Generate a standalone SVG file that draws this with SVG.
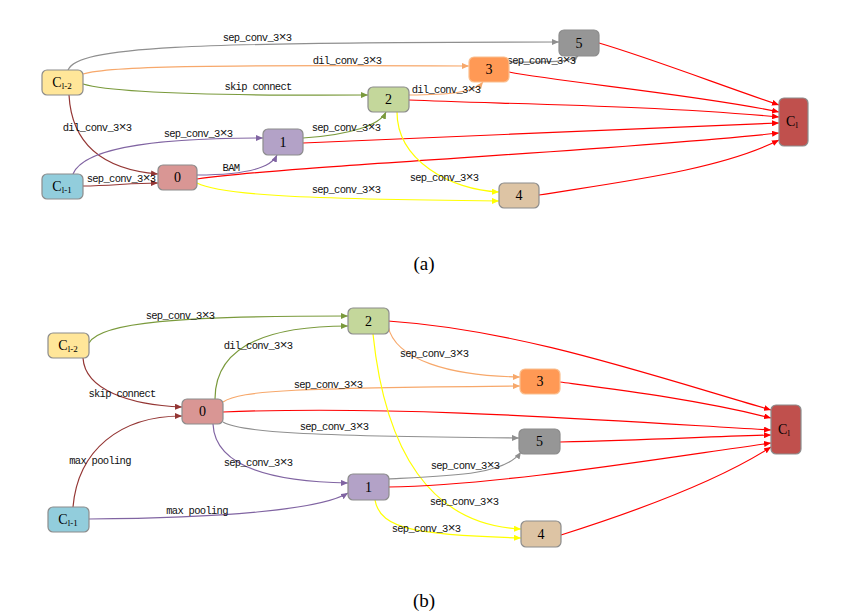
<svg xmlns="http://www.w3.org/2000/svg" width="845" height="616" viewBox="0 0 845 616">
<defs>
<style>
.nd{stroke:#8c8c8c;stroke-width:1.2}
.nt{font-family:"Liberation Serif","Times New Roman",serif;font-size:14px;text-anchor:middle;fill:#000}
.lb{font-family:"Liberation Mono","Courier New",monospace;font-size:10.5px;letter-spacing:-0.7px;text-anchor:middle;fill:#111}
.x{font-size:13px}
.cap{font-family:"Liberation Serif","Times New Roman",serif;font-size:19px;text-anchor:middle;fill:#000}
.e{fill:none;stroke-width:1.2}
.gy{stroke:#8f8f8f}
.or{stroke:#F7A86B}
.ol{stroke:#7A9A3C}
.dr{stroke:#943634}
.pu{stroke:#8064A2}
.rd{stroke:#FF0000;stroke-width:1.2}
.ye{stroke:#FFFF00}
</style>
<marker id="mgy" markerUnits="userSpaceOnUse" markerWidth="7" markerHeight="6" refX="7" refY="3" orient="auto"><path d="M0,0 L7,3 L0,6 z" fill="#8f8f8f"/></marker>
<marker id="mor" markerUnits="userSpaceOnUse" markerWidth="7" markerHeight="6" refX="7" refY="3" orient="auto"><path d="M0,0 L7,3 L0,6 z" fill="#F7A86B"/></marker>
<marker id="mol" markerUnits="userSpaceOnUse" markerWidth="7" markerHeight="6" refX="7" refY="3" orient="auto"><path d="M0,0 L7,3 L0,6 z" fill="#7A9A3C"/></marker>
<marker id="mdr" markerUnits="userSpaceOnUse" markerWidth="7" markerHeight="6" refX="7" refY="3" orient="auto"><path d="M0,0 L7,3 L0,6 z" fill="#943634"/></marker>
<marker id="mpu" markerUnits="userSpaceOnUse" markerWidth="7" markerHeight="6" refX="7" refY="3" orient="auto"><path d="M0,0 L7,3 L0,6 z" fill="#8064A2"/></marker>
<marker id="mrd" markerUnits="userSpaceOnUse" markerWidth="7" markerHeight="6" refX="7" refY="3" orient="auto"><path d="M0,0 L7,3 L0,6 z" fill="#FF0000"/></marker>
<marker id="mye" markerUnits="userSpaceOnUse" markerWidth="7" markerHeight="6" refX="7" refY="3" orient="auto"><path d="M0,0 L7,3 L0,6 z" fill="#FFFF00"/></marker>
</defs>
<rect width="845" height="616" fill="#fff"/>

<!-- Panel (a) -->
<g id="a-connectors">
<path class="e gy" marker-end="url(#mgy)" d="M68,70 C78,47 180,42 559,42"/>
<path class="e or" marker-end="url(#mor)" d="M83,74 C110,66 200,65 469,66"/>
<path class="e ol" marker-end="url(#mol)" d="M83,84 C110,92 200,96 368,95"/>
<path class="e dr" marker-end="url(#mdr)" d="M69,95 C72,150 110,170 158,174"/>
<path class="e pu" marker-end="url(#mpu)" d="M73,174 C85,145 170,138 263,138"/>
<path class="e dr" marker-end="url(#mdr)" d="M83,186 C110,186 130,183 158,183"/>
<path class="e pu" marker-end="url(#mpu)" d="M197,175 C240,175 270,170 277,155"/>
<path class="e rd" marker-end="url(#mrd)" d="M197,179 C300,165 600,152 779,133"/>
<path class="e ye" marker-end="url(#mye)" d="M197,183 C220,195 300,199 499,201"/>
<path class="e ol" marker-end="url(#mol)" d="M303,138 C350,135 380,125 386,112"/>
<path class="e rd" marker-end="url(#mrd)" d="M303,143 C450,137 650,128 779,123"/>
<path class="e or" marker-end="url(#mor)" d="M409,95 C450,95 475,92 483,82"/>
<path class="e rd" marker-end="url(#mrd)" d="M409,100 C500,104 650,105 779,117"/>
<path class="e ye" marker-end="url(#mye)" d="M397,112 C397,160 450,190 499,192"/>
<path class="e gy" marker-end="url(#mgy)" d="M509,62 C540,62 570,63 578,56"/>
<path class="e rd" marker-end="url(#mrd)" d="M509,72 C560,82 700,95 779,112"/>
<path class="e rd" marker-end="url(#mrd)" d="M599,43 C650,58 720,85 779,105"/>
<path class="e rd" marker-end="url(#mrd)" d="M539,195 C620,182 720,170 779,140"/>
</g>
<g id="a-labels">
<text class="lb" x="257" y="41">sep_conv_3<tspan class="x">×</tspan>3</text>
<text class="lb" x="347" y="64">dil_conv_3<tspan class="x">×</tspan>3</text>
<text class="lb" x="258" y="90">skip connect</text>
<text class="lb" x="97" y="131">dil_conv_3<tspan class="x">×</tspan>3</text>
<text class="lb" x="198" y="137">sep_conv_3<tspan class="x">×</tspan>3</text>
<text class="lb" x="121" y="182">sep_conv_3<tspan class="x">×</tspan>3</text>
<text class="lb" x="231" y="171">BAM</text>
<text class="lb" x="346" y="193">sep_conv_3<tspan class="x">×</tspan>3</text>
<text class="lb" x="346" y="131">sep_conv_3<tspan class="x">×</tspan>3</text>
<text class="lb" x="446" y="93">dil_conv_3<tspan class="x">×</tspan>3</text>
<text class="lb" x="444" y="181">sep_conv_3<tspan class="x">×</tspan>3</text>
<text class="lb" x="541" y="64">sep_conv_3<tspan class="x">×</tspan>3</text>
</g>
<g id="a-cl2"><rect class="nd" x="42" y="70" width="41" height="25" rx="5" fill="#FFE699"/><text class="nt" x="62" y="87">C<tspan font-size="9" dy="2">l-2</tspan></text></g>
<g id="a-cl1"><rect class="nd" x="42" y="174" width="41" height="25" rx="5" fill="#92CDDC"/><text class="nt" x="62" y="191">C<tspan font-size="9" dy="2">l-1</tspan></text></g>
<g id="a-n0"><rect class="nd" x="158" y="165" width="39" height="25" rx="5" fill="#D99694"/><text class="nt" x="177.5" y="182">0</text></g>
<g id="a-n1"><rect class="nd" x="263" y="129" width="40" height="26" rx="5" fill="#B3A2C7"/><text class="nt" x="283" y="147">1</text></g>
<g id="a-n2"><rect class="nd" x="368" y="87" width="41" height="25" rx="5" fill="#C4D79B"/><text class="nt" x="388.5" y="104">2</text></g>
<g id="a-n3"><rect x="469" y="57" width="40" height="25" rx="5" fill="#FF9955" stroke="#FAC090" stroke-width="1.2"/><text class="nt" x="489" y="74">3</text></g>
<g id="a-n4"><rect class="nd" x="499" y="183" width="40" height="25" rx="5" fill="#DDC4A4" stroke="#cfcfcf"/><text class="nt" x="519" y="200">4</text></g>
<g id="a-n5"><rect class="nd" x="559" y="30" width="40" height="26" rx="5" fill="#969696"/><text class="nt" x="579" y="48">5</text></g>
<g id="a-cl"><rect class="nd" x="779" y="98" width="29" height="48" rx="5" fill="#C0504D"/><text class="nt" x="792" y="126">C<tspan font-size="9" dy="2">l</tspan></text></g>
<text class="cap" x="424" y="270">(a)</text>

<!-- Panel (b) -->
<g id="b-connectors">
<path class="e ol" marker-end="url(#mol)" d="M89,343 C100,322 180,316 348,316"/>
<path class="e ol" marker-end="url(#mol)" d="M215,399 C215,350 260,326 348,326"/>
<path class="e dr" marker-end="url(#mdr)" d="M83,358 C85,390 130,405 182,407"/>
<path class="e dr" marker-end="url(#mdr)" d="M73,507 C78,450 120,416 182,416"/>
<path class="e pu" marker-end="url(#mpu)" d="M89,519 C220,518 320,510 348,493"/>
<path class="e pu" marker-end="url(#mpu)" d="M213,424 C215,470 280,482 348,483"/>
<path class="e or" marker-end="url(#mor)" d="M223,402 C240,390 300,388 520,386"/>
<path class="e rd" marker-end="url(#mrd)" d="M223,412 C400,405 600,420 771,430"/>
<path class="e gy" marker-end="url(#mgy)" d="M223,422 C240,432 300,436 519,438"/>
<path class="e or" marker-end="url(#mor)" d="M388,326 C395,360 450,376 520,377"/>
<path class="e ye" marker-end="url(#mye)" d="M373,334 C385,450 430,525 521,529"/>
<path class="e rd" marker-end="url(#mrd)" d="M388,321 C520,330 650,375 771,410"/>
<path class="e gy" marker-end="url(#mgy)" d="M388,479 C450,476 505,475 521,452"/>
<path class="e rd" marker-end="url(#mrd)" d="M388,487 C500,485 650,460 771,443"/>
<path class="e ye" marker-end="url(#mye)" d="M375,500 C380,530 420,535 521,538"/>
<path class="e rd" marker-end="url(#mrd)" d="M560,382 C620,390 700,400 771,418"/>
<path class="e rd" marker-end="url(#mrd)" d="M560,442 C650,440 700,437 771,435"/>
<path class="e rd" marker-end="url(#mrd)" d="M561,535 C640,510 720,480 771,447"/>
</g>
<g id="b-labels">
<text class="lb" x="180" y="319">sep_conv_3<tspan class="x">×</tspan>3</text>
<text class="lb" x="258" y="349">dil_conv_3<tspan class="x">×</tspan>3</text>
<text class="lb" x="122" y="397">skip connect</text>
<text class="lb" x="100" y="464">max pooling</text>
<text class="lb" x="197" y="514">max pooling</text>
<text class="lb" x="258" y="466">sep_conv_3<tspan class="x">×</tspan>3</text>
<text class="lb" x="328" y="388">sep_conv_3<tspan class="x">×</tspan>3</text>
<text class="lb" x="334" y="430">sep_conv_3<tspan class="x">×</tspan>3</text>
<text class="lb" x="434" y="357">sep_conv_3<tspan class="x">×</tspan>3</text>
<text class="lb" x="465" y="469">sep_conv_3<tspan class="x">×</tspan>3</text>
<text class="lb" x="464" y="505">sep_conv_3<tspan class="x">×</tspan>3</text>
<text class="lb" x="426" y="532">sep_conv_3<tspan class="x">×</tspan>3</text>
</g>
<g id="b-cl2"><rect class="nd" x="48" y="333" width="41" height="25" rx="5" fill="#FFE699"/><text class="nt" x="68" y="350">C<tspan font-size="9" dy="2">l-2</tspan></text></g>
<g id="b-cl1"><rect class="nd" x="48" y="507" width="41" height="25" rx="5" fill="#92CDDC"/><text class="nt" x="68" y="524">C<tspan font-size="9" dy="2">l-1</tspan></text></g>
<g id="b-n0"><rect class="nd" x="182" y="399" width="41" height="25" rx="5" fill="#D99694"/><text class="nt" x="202.5" y="416">0</text></g>
<g id="b-n1"><rect class="nd" x="348" y="474" width="41" height="26" rx="5" fill="#B3A2C7"/><text class="nt" x="368.5" y="492">1</text></g>
<g id="b-n2"><rect class="nd" x="348" y="308" width="41" height="26" rx="5" fill="#C4D79B"/><text class="nt" x="368.5" y="326">2</text></g>
<g id="b-n3"><rect x="520" y="369" width="40" height="25" rx="5" fill="#FF9955" stroke="#FAC090" stroke-width="1.2"/><text class="nt" x="540" y="386">3</text></g>
<g id="b-n4"><rect class="nd" x="521" y="521" width="40" height="26" rx="5" fill="#DDC4A4" stroke="#cfcfcf"/><text class="nt" x="541" y="539">4</text></g>
<g id="b-n5"><rect class="nd" x="519" y="429" width="41" height="25" rx="5" fill="#969696"/><text class="nt" x="539.5" y="446">5</text></g>
<g id="b-cl"><rect class="nd" x="771" y="405" width="30" height="49" rx="5" fill="#C0504D"/><text class="nt" x="784" y="434">C<tspan font-size="9" dy="2">l</tspan></text></g>
<text class="cap" x="424" y="607">(b)</text>
</svg>
